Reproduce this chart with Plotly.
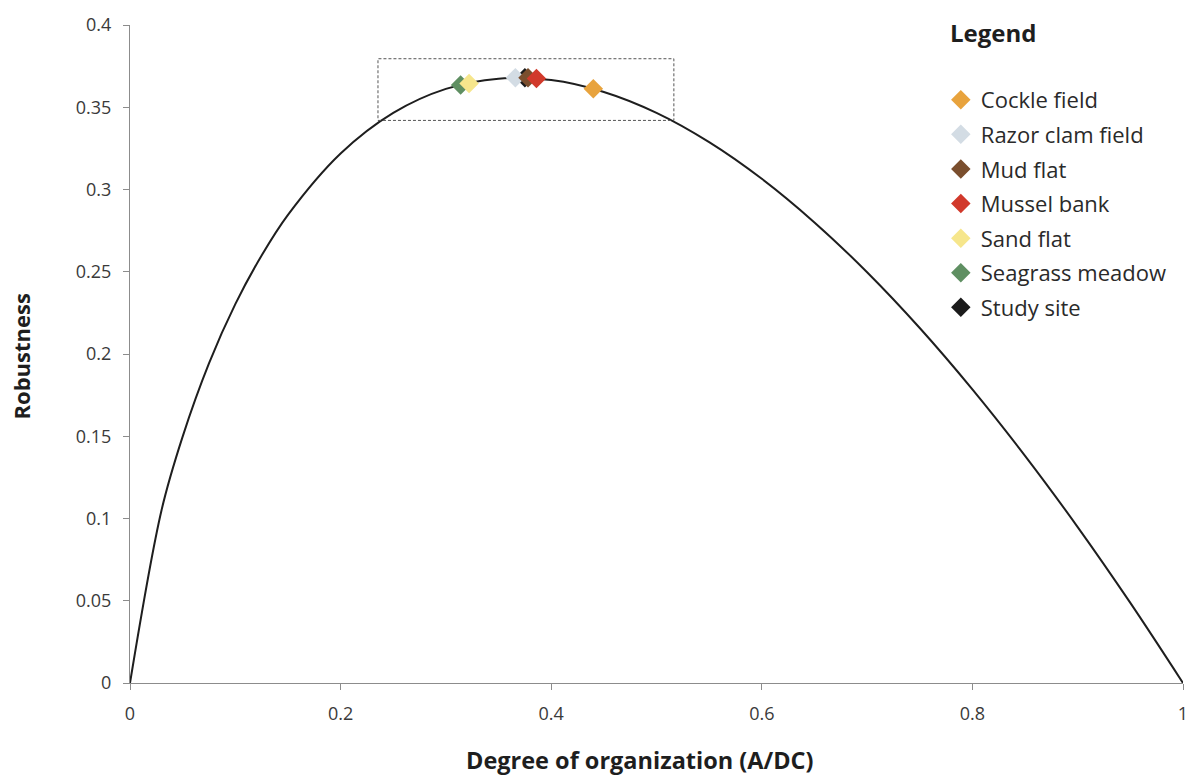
import plotly.graph_objects as go

# Robustness curve (degree of organization vs robustness)
curve_x = [0, 0.03, 0.05, 0.075, 0.1, 0.125, 0.15, 0.2, 0.25, 0.3, 0.35, 0.4,
           0.45, 0.5, 0.55, 0.6, 0.65, 0.7, 0.75, 0.8, 0.85, 0.9, 0.95, 1.0]
curve_y = [0, 0.1052, 0.1498, 0.1943, 0.2303, 0.2599, 0.2846, 0.3219, 0.3466,
           0.3612, 0.3674, 0.3665, 0.3593, 0.3466, 0.3288, 0.3065, 0.2800,
           0.2497, 0.2158, 0.1785, 0.1381, 0.0948, 0.0487, 0]

# Habitats (legend order)
sites = ["Cockle field", "Razor clam field", "Mud flat", "Mussel bank",
         "Sand flat", "Seagrass meadow", "Study site"]
site_x = [0.440, 0.366, 0.378, 0.386, 0.322, 0.314, 0.375]
site_y = [0.3612, 0.3680, 0.3680, 0.3675, 0.3645, 0.3635, 0.3680]
site_colors = ["#E8A33D", "#D3DCE4", "#7A4E2D", "#D1392B", "#F6E68C",
               "#5F8F62", "#1B1B1B"]
# drawing order (later = on top)
draw_order = ["Study site", "Cockle field", "Seagrass meadow", "Sand flat",
              "Razor clam field", "Mud flat", "Mussel bank"]

# zoom box around the habitats
box_x = [0.2355, 0.5165]
box_y = [0.3420, 0.3795]

FONT = "Open Sans, Calibri, sans-serif"

fig = go.Figure()
fig.add_trace(go.Scatter(
    x=curve_x, y=curve_y, mode="lines",
    line=dict(color="#1e1e1e", width=2, shape="spline", smoothing=1.0),
    showlegend=False, hoverinfo="skip"))

for name in draw_order:
    i = sites.index(name)
    fig.add_trace(go.Scatter(
        x=[site_x[i]], y=[site_y[i]], mode="markers", name=name,
        marker=dict(symbol="diamond", size=15, color=site_colors[i],
                    line=dict(width=0)),
        legendrank=i + 1, legendgroup=name))

fig.add_shape(type="rect", xref="x", yref="y",
              x0=box_x[0], x1=box_x[1], y0=box_y[0], y1=box_y[1],
              line=dict(color="#555555", width=1, dash="3px,2px"),
              fillcolor="rgba(0,0,0,0)")

axis_common = dict(
    showline=True, linecolor="#8c8c8c", linewidth=1,
    ticks="outside", ticklen=6, tickcolor="#8c8c8c",
    showgrid=False, zeroline=False,
    tickfont=dict(family=FONT, size=18, color="#3a3a3a"),
)

fig.update_xaxes(range=[0, 1], dtick=0.2, tick0=0, ticklabelstandoff=8,
                 **axis_common)
fig.update_yaxes(range=[0, 0.4], dtick=0.05, tick0=0, ticklabelstandoff=8,
                 **axis_common)

fig.add_annotation(text="<b>Degree of organization (A/DC)</b>",
                   xref="paper", yref="paper", x=0.4843, y=-0.1165,
                   xanchor="center", yanchor="middle", showarrow=False,
                   font=dict(family=FONT, size=23.5, color="#1e1e1e"))
fig.add_annotation(text="<b>Robustness</b>", textangle=-90,
                   xref="paper", yref="paper", x=-0.104, y=0.497,
                   xanchor="center", yanchor="middle", showarrow=False,
                   font=dict(family=FONT, size=22, color="#1e1e1e"))
fig.add_annotation(text="<b>Legend</b>",
                   xref="paper", yref="paper", x=0.777, y=0.988,
                   xanchor="left", yanchor="middle", showarrow=False,
                   font=dict(family=FONT, size=24, color="#1e1e1e"))

fig.update_layout(
    width=1200, height=780,
    margin=dict(l=130, r=17, t=22, b=97),
    paper_bgcolor="white", plot_bgcolor="white",
    legend=dict(x=0.770, y=0.918, xanchor="left", yanchor="top",
                traceorder="grouped", tracegroupgap=3,
                font=dict(family=FONT, size=22, color="#2a2a2a"),
                bgcolor="rgba(0,0,0,0)", itemwidth=30),
)

fig.write_html("out.html")
